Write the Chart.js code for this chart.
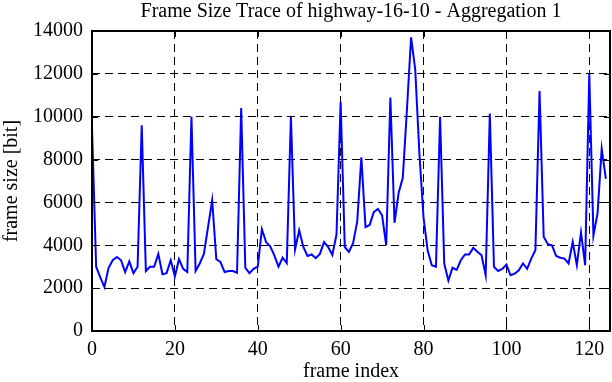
<!DOCTYPE html>
<html>
<head>
<meta charset="utf-8">
<script src="https://cdn.jsdelivr.net/npm/chart.js@4/dist/chart.umd.min.js"></script>
<style>
  html, body { margin: 0; padding: 0; background: #fff; }
  #wrap { width: 612px; height: 382px; }
</style>
</head>
<body>
<div id="wrap"><canvas id="chart1"></canvas></div>
<script>
const TITLE = 'Frame Size Trace of highway-16-10 - Aggregation 1';
const X_LABEL = 'frame index';
const Y_LABEL = 'frame size [bit]';

// frame size per frame index (0..124)
const frameSizes = [
    9500, 3000, 2500, 2050, 2950, 3300, 3450, 3300, 2750, 3250,
    2700, 3000, 9600, 2800, 3000, 3000, 3600, 2650, 2700, 3300,
    2550, 3350, 2900, 2750, 10000, 2800, 3150, 3600, 4850, 6100,
    3350, 3220, 2750, 2800, 2800, 2720, 10400, 2950, 2700, 2900,
    3000, 4750, 4150, 3950, 3530, 3000, 3420, 3170, 10000, 3800,
    4700, 3920, 3500, 3570, 3400, 3600, 4150, 3920, 3550, 4500,
    10700, 3920, 3690, 4100, 5100, 8100, 4850, 4950, 5550, 5700,
    5400, 4000, 10900, 5050, 6450, 7150, 10350, 13700, 12200, 8300,
    5300, 3750, 3070, 3000, 10000, 3150, 2350, 2950, 2850, 3300,
    3570, 3570, 3880, 3700, 3530, 2600, 10150, 3000, 2800, 2900,
    3100, 2600, 2680, 2830, 3150, 2900, 3380, 3770, 11200, 4400,
    4050, 4000, 3500, 3420, 3380, 3150, 4150, 3070, 4600, 3070,
    12000, 4450, 5500, 8500, 7100
];

const X_TICKS = [0, 20, 40, 60, 80, 100, 120];
const Y_TICKS = [0, 2000, 4000, 6000, 8000, 10000, 12000, 14000];
const X_MAX = 125;
const Y_MAX = 14000;

const FONT = 'Liberation Serif, Times New Roman, serif';

// gnuplot style frame with small inward ticks on all four sides
const frame = {
    id: 'frame',
    afterDatasetsDraw(chart) {
        const {ctx, chartArea: a, scales: {x, y}} = chart;
        const t = 6;
        ctx.save();
        ctx.strokeStyle = '#000';
        ctx.lineWidth = 1;
        ctx.beginPath();
        X_TICKS.forEach(v => {
            const px = Math.round(x.getPixelForValue(v)) + 0.5;
            ctx.moveTo(px, a.bottom); ctx.lineTo(px, a.bottom - t);
            ctx.moveTo(px, a.top); ctx.lineTo(px, a.top + t);
        });
        Y_TICKS.forEach(v => {
            const py = Math.round(y.getPixelForValue(v)) + 0.5;
            ctx.moveTo(a.left, py); ctx.lineTo(a.left + t, py);
            ctx.moveTo(a.right, py); ctx.lineTo(a.right - t, py);
        });
        ctx.stroke();
        ctx.lineWidth = 2;
        ctx.strokeRect(a.left, a.top, a.right - a.left, a.bottom - a.top);
        ctx.restore();
    }
};

new Chart(document.getElementById('chart1'), {
    type: 'line',
    data: {
        datasets: [{
            data: frameSizes.map((v, i) => ({x: i, y: v})),
            borderColor: 'rgb(0 0 255)',
            borderWidth: 2,
            pointRadius: 0,
            tension: 0,
            fill: false,
        }]
    },
    options: {
        responsive: true,
        maintainAspectRatio: false,
        animation: false,
        layout: {padding: {right: 2, left: 0, top: 0, bottom: 0}},
        scales: {
            x: {
                type: 'linear',
                min: 0,
                max: X_MAX,
                afterBuildTicks: s => { s.ticks = X_TICKS.map(v => ({value: v})); },
                afterFit: s => { s.height = 51; },
                grid: {color: '#000', lineWidth: 1, drawTicks: false},
                border: {display: false, dash: [8, 5]},
                ticks: {color: '#000', padding: 7, maxRotation: 0, font: {family: FONT, size: 20}},
                title: {display: true, text: X_LABEL, color: '#000', padding: 0,
                    font: {family: FONT, size: 20, lineHeight: 1}},
            },
            y: {
                min: 0,
                max: Y_MAX,
                afterBuildTicks: s => { s.ticks = Y_TICKS.map(v => ({value: v})); },
                afterFit: s => { s.width = 92; },
                grid: {color: '#000', lineWidth: 1, drawTicks: false},
                border: {display: false, dash: [8, 5]},
                ticks: {color: '#000', padding: 9, callback: v => String(v), font: {family: FONT, size: 20}},
                title: {display: true, text: Y_LABEL, color: '#000', padding: {top: 2, bottom: 0},
                    font: {family: FONT, size: 20, lineHeight: 1}},
            },
        },
        plugins: {
            legend: {display: false},
            tooltip: {enabled: false},
            title: {
                display: true,
                fullSize: false,
                text: TITLE,
                color: '#000',
                font: {family: FONT, size: 20, weight: 'normal', lineHeight: 1.2},
                padding: {top: 0, bottom: 7},
            }
        }
    },
    plugins: [frame]
});
</script>
</body>
</html>
